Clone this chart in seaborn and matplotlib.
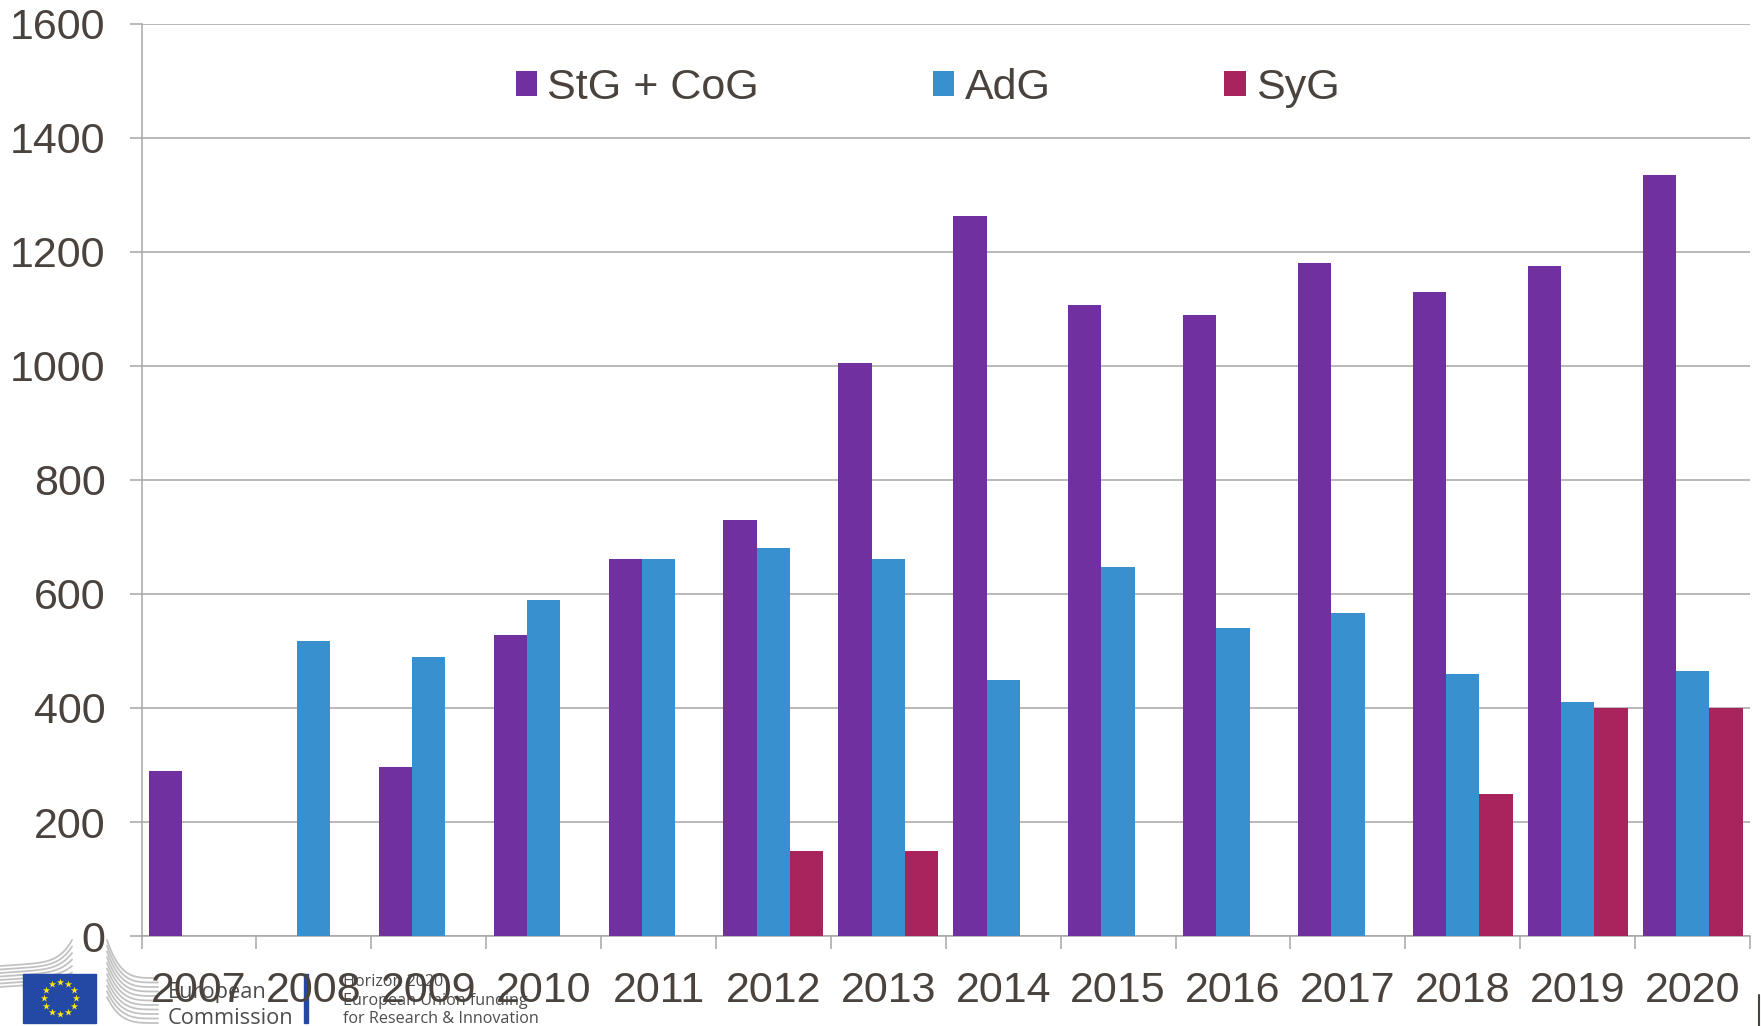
import numpy as np
import pandas as pd
import seaborn as sns
import matplotlib.pyplot as plt
from matplotlib.patches import Rectangle

years = [2007, 2008, 2009, 2010, 2011, 2012, 2013, 2014, 2015, 2016, 2017, 2018, 2019, 2020]
stg_cog = [290, 0, 296, 528, 661, 730, 1005, 1263, 1107, 1090, 1180, 1130, 1175, 1335]
adg = [0, 517, 490, 590, 661, 680, 661, 450, 647, 540, 566, 460, 410, 465]
syg = [0, 0, 0, 0, 0, 150, 150, 0, 0, 0, 0, 250, 400, 400]
series_names = ['StG + CoG', 'AdG', 'SyG']
colors = ['#7030a0', '#3890cf', '#a9235c']
y_ticks = [0, 200, 400, 600, 800, 1000, 1200, 1400, 1600]

txt_col = '#4a423d'
grid_col = '#a6a6a6'

sns.set_theme(style='white')
plt.rcParams['font.family'] = ['Liberation Sans', 'DejaVu Sans']

df = pd.DataFrame({'year': years, series_names[0]: stg_cog, series_names[1]: adg, series_names[2]: syg})
df = df.melt(id_vars='year', var_name='grant', value_name='budget')

W, H = 1761, 1026
fig = plt.figure(figsize=(W / 100, H / 100), dpi=100)
ax = fig.add_axes([141.5 / W, 1 - 936 / H, (1750 - 141.5) / W, (936 - 24) / H])

sns.barplot(data=df, x='year', y='budget', hue='grant', hue_order=series_names,
            palette=colors, width=0.87, gap=0, saturation=1, linewidth=0, errorbar=None, ax=ax, zorder=3)

ax.set_xlim(-0.5, len(years) - 0.5)
ax.set_ylim(0, 1600)
ax.set_xlabel('')
ax.set_ylabel('')
ax.set_yticks(y_ticks)
ax.yaxis.grid(True, color=grid_col, lw=1.1)
ax.set_axisbelow(True)
ax.tick_params(axis='y', length=9, width=1.1, color=grid_col, labelsize=31, labelcolor=txt_col, pad=17, left=True)
ax.tick_params(axis='x', which='major', length=0, labelsize=31, labelcolor=txt_col, pad=25.5)
# ticks sit between the years
ax.set_xticks(np.arange(-0.5, len(years)), minor=True)
ax.tick_params(axis='x', which='minor', length=9, width=1.1, color=grid_col, bottom=True)
for s in ['top', 'right']:
    ax.spines[s].set_visible(False)
for s in ['left', 'bottom']:
    ax.spines[s].set_color(grid_col)
    ax.spines[s].set_linewidth(1.1)

ax.legend(loc='upper left', bbox_to_anchor=(374 / 1608.5, 1 - 44 / 912), ncol=3, frameon=False, fontsize=31,
          labelcolor=txt_col, handlelength=0.5, handleheight=0.5, handletextpad=0.24,
          columnspacing=4.03, borderpad=0, borderaxespad=0)

# logo strip, drawn in pixel coordinates
lg = fig.add_axes([0, 0, 1, 1], zorder=-1)
lg.set_xlim(0, W)
lg.set_ylim(H, 0)
lg.axis('off')
t = np.linspace(0, 1, 60)
for i in range(7):
    lg.plot(t * 72, 966 + 3.5 * i - t * 5 - t ** 6 * (21 - 3 * i), color='#c2c2c2', lw=1.3)
for i in range(11):
    lg.plot(107 + t * 51, 978 + 4.5 * i - (1 - t) ** 4 * (38 - 1.2 * i), color='#c2c2c2', lw=1.3)
lg.add_patch(Rectangle((23, 974), 73, 49, color='#2349a4', zorder=2))
ang = np.arange(12) * np.pi / 6
lg.scatter(60 + 16.3 * np.sin(ang), 998 + 16.3 * np.cos(ang), marker='*', s=30, color='#ffe800', lw=0, zorder=3)
lg.add_patch(Rectangle((304, 974), 3.5, 49, color='#2349a4'))
lg.text(168, 992.5, 'European', fontsize=15.7, family='Open Sans', color='#4d4d4d', va='center')
lg.text(168, 1018, 'Commission', fontsize=15.7, family='Open Sans', color='#4d4d4d', va='center')
lg.text(343, 982, 'Horizon 2020', fontsize=11.6, family='Open Sans', color='#4d4d4d', va='center')
lg.text(343, 1001, 'European Union funding', fontsize=11.6, family='Open Sans', color='#4d4d4d', va='center')
lg.text(343, 1019, 'for Research & Innovation', fontsize=11.6, family='Open Sans', color='#4d4d4d', va='center')
lg.plot([1759, 1759], [995, 1026], color='#4a423d', lw=1.5)

plt.savefig('out.png', dpi=100)
